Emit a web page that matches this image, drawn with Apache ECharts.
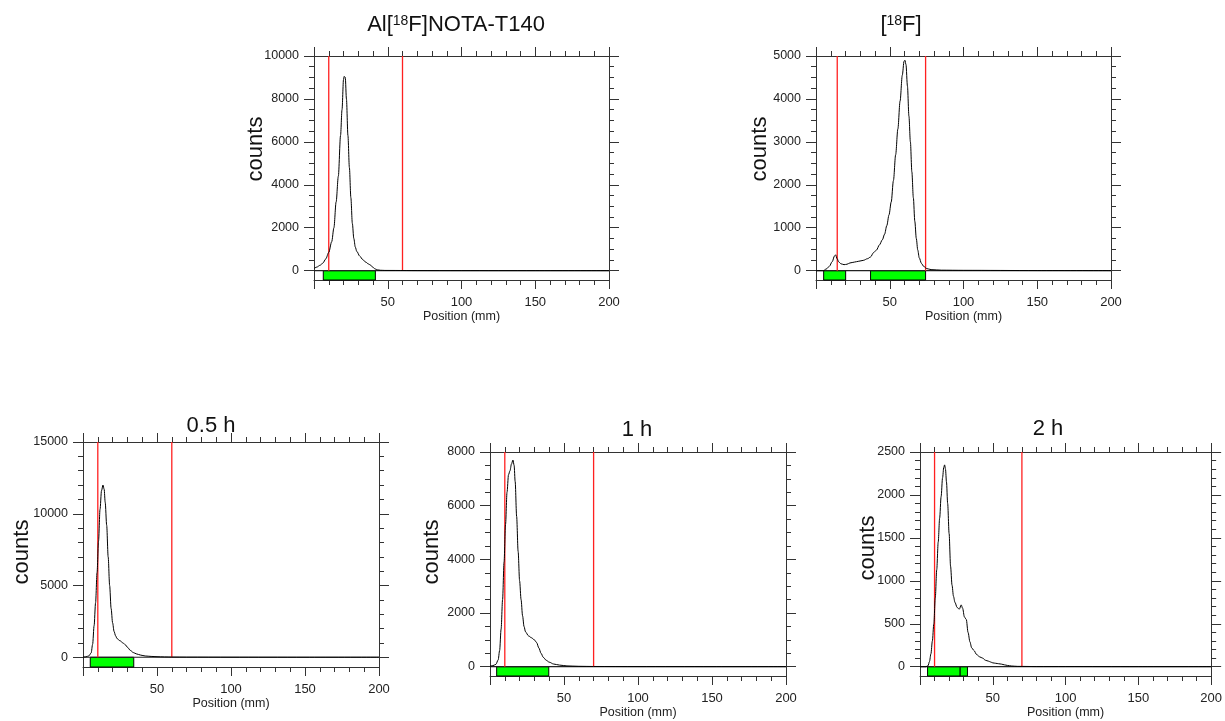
<!DOCTYPE html>
<html><head><meta charset="utf-8">
<script src="https://cdn.jsdelivr.net/npm/echarts@6/dist/echarts.min.js"></script>
<style>html,body{margin:0;padding:0;background:#fff}#c{width:1225px;height:721px}</style>
</head><body><div id="c"></div>
<script>
// ---------- data ----------
const pos1 = [0,2,4,6,8,10,12,13.5,15,16.5,18,19,20,20.5,21.2,22,23,24,25,26,27,28,29,31,33,35,37,38.5,40,41.5,43,45,48,55,70,100,150,200];
const cnt1 = [100,170,250,350,550,850,1350,2000,3200,4400,6300,7500,8900,9050,9000,8000,6300,4800,3400,2200,1500,1100,900,680,520,400,310,250,150,80,40,20,12,10,5,3,2,2];

const pos2 = [0,5,7,9,11,12.5,13.3,14.3,15.5,17,19,21,23,26,29,32,35,37,39,41,43,45,46.5,48,49.5,51,52.5,54,55.5,57,58.5,59.7,60.3,61,62,63,64,65,66,67,68,69,70,71.5,73,75,78,85,100,150,200];
const cnt2 = [0,0,40,100,210,340,370,280,200,160,140,150,180,200,220,240,280,320,420,480,600,720,850,1050,1300,1600,2100,2700,3300,3950,4550,4880,4900,4800,4300,3600,3000,2300,1700,1150,750,480,300,170,100,50,25,12,8,3,2];

const pos3 = [0,2,4,5.5,6.5,7.5,8.5,9.5,10.5,11.5,12.5,13.5,14.3,15,16,17,18,19,20,21,22,23,25,27,28.5,30,32,34,36,39,42,46,50,55,60,70,100,150,200];
const cnt3 = [10,30,100,300,900,2200,3800,5900,8100,10300,11600,12000,11700,10800,9200,7000,5000,3400,2400,1800,1500,1300,1150,1000,880,700,480,330,240,150,90,60,40,25,15,10,5,3,3];

const pos4 = [0,2,4,5.5,6.5,7.5,8.5,9.5,10.5,11.5,12.5,13.5,14.5,15.5,16.3,17,18,19,20,21,22,23,24,26,28,30,31.5,33,34.5,36,38,40,43,47,52,60,70,100,150,200];
const cnt4 = [20,40,90,250,600,1400,2500,3900,5300,6500,7150,7300,7550,7700,7500,6900,5600,4300,3200,2500,1900,1500,1300,1150,1080,1000,900,700,500,350,240,170,100,60,30,15,8,5,3,3];

const pos5 = [0,4,5.5,6.5,7.5,8.5,9.5,10.5,11.5,12.5,13.5,14.5,15.5,16.3,16.9,17.5,18.2,19,20,21,22,23,24,25.5,27,28.3,29.3,30.5,31.8,33,34.3,35.5,37,39,41,43,45,47,48.5,50,52,54,56,58,60,63,67,80,100,150,200];
const cnt5 = [0,0,10,60,150,300,500,800,1130,1450,1730,1980,2200,2320,2350,2300,2150,1900,1550,1170,950,820,750,690,670,720,680,580,550,400,290,220,190,140,115,100,75,65,55,45,40,35,30,22,15,8,4,2,2,1,1];

// region markers (mm)
const red1 = [10, 60];
const red2 = [14.4, 74.3];
const red3 = [10, 60];
const red4 = [10, 70];
const red5 = [10, 70];
const green1 = [[6.3, 41.6]];
const green2 = [[5.2, 20.1], [37, 74.3]];
const green3 = [[4.9, 34.3]];
const green4 = [[4.5, 39.7]];
const green5 = [[5.2, 27.6], [27.6, 32.6]];

// tick labels
const xTicks = [50, 100, 150, 200];
const yTicks1 = [0, 2000, 4000, 6000, 8000, 10000];
const yTicks2 = [0, 1000, 2000, 3000, 4000, 5000];
const yTicks3 = [0, 5000, 10000, 15000];
const yTicks4 = [0, 2000, 4000, 6000, 8000];
const yTicks5 = [0, 500, 1000, 1500, 2000, 2500];
const yMinorStep = [500, 250, 1000, 500, 100];

const titles = ['Al[18F]NOTA-T140', '[18F]', '0.5 h', '1 h', '2 h'];

// ---------- layout ----------
const FONT = '"Liberation Sans", Arial, Helvetica, sans-serif';
const layout = [
  {left: 314, top: 56,  width: 295, height: 224, yLow: -434, tx: 456,  ty: 25,    cx: 256, cy: 149},
  {left: 816, top: 56,  width: 295, height: 224, yLow: -217, tx: 901,  ty: 25,    cx: 760, cy: 149},
  {left: 83,  top: 442, width: 296, height: 225, yLow: -678, tx: 211,  ty: 425.5, cx: 22,  cy: 552},
  {left: 490, top: 452, width: 296, height: 224, yLow: -346, tx: 637,  ty: 429.5, cx: 432, cy: 552},
  {left: 920, top: 452, width: 295, height: 224, yLow: -108, tx: 1048, ty: 428.5, cx: 868, cy: 548}
];
const P = [
  {pos: pos1, cnt: cnt1, red: red1, green: green1, yt: yTicks1},
  {pos: pos2, cnt: cnt2, red: red2, green: green2, yt: yTicks2},
  {pos: pos3, cnt: cnt3, red: red3, green: green3, yt: yTicks3},
  {pos: pos4, cnt: cnt4, red: red4, green: green4, yt: yTicks4},
  {pos: pos5, cnt: cnt5, red: red5, green: green5, yt: yTicks5}
];

const AX = '#333';
const option = {animation: false, backgroundColor: '#fff', grid: [], xAxis: [], yAxis: [], series: [], graphic: []};

P.forEach((p, i) => {
  const L = layout[i];
  const yTop = p.yt[p.yt.length - 1];
  option.grid.push({left: L.left, top: L.top, width: L.width, height: L.height, show: false});
  const xb = option.xAxis.length;
  const xCommon = {
    type: 'value', gridIndex: i, min: 0, max: 200, interval: 50,
    axisLine: {show: true, onZero: false, lineStyle: {color: AX, width: 1}},
    axisTick: {show: true, length: 9, lineStyle: {color: AX, width: 1}},
    minorTick: {show: true, splitNumber: 5, length: 5, lineStyle: {color: AX, width: 1}},
    splitLine: {show: false}, minorSplitLine: {show: false}
  };
  option.xAxis.push(Object.assign({}, xCommon, {
    position: 'bottom',
    axisLabel: {show: true, margin: 16, fontSize: 13, color: '#222', fontFamily: FONT,
      formatter: v => xTicks.indexOf(v) >= 0 ? String(v) : ''},
    name: 'Position (mm)', nameLocation: 'middle', nameGap: 28,
    nameTextStyle: {fontSize: 12.5, color: '#222', fontFamily: FONT}
  }));
  option.xAxis.push(Object.assign({}, xCommon, {position: 'top', axisLabel: {show: false}}));

  const minors = [];
  for (let v = 0; v <= yTop + 1e-9; v += yMinorStep[i]) {
    if (p.yt.indexOf(v) < 0) minors.push(v);
  }
  const yb = option.yAxis.length;
  const yBase = {type: 'value', gridIndex: i, min: L.yLow, max: yTop,
    splitLine: {show: false}, axisLabel: {show: false},
    axisLine: {show: false, onZero: false}};
  ['left', 'right'].forEach(side => {
    option.yAxis.push(Object.assign({}, yBase, {
      position: side,
      axisLine: {show: true, onZero: false, lineStyle: {color: AX, width: 1}},
      axisTick: {show: true, length: 10, customValues: p.yt, lineStyle: {color: AX, width: 1}},
      axisLabel: side === 'left'
        ? {show: true, customValues: p.yt, margin: 15, fontSize: 12.5, color: '#222', fontFamily: FONT,
           formatter: v => String(Math.round(v))}
        : {show: false}
    }));
    option.yAxis.push(Object.assign({}, yBase, {
      position: side,
      axisTick: {show: true, length: 5, customValues: minors, lineStyle: {color: AX, width: 1}}
    }));
  });

  const maData = p.green.map(g => [{coord: [g[0], L.yLow]}, {coord: [g[1], 0]}]);

  // zero line + green regions
  option.series.push({
    type: 'line', xAxisIndex: xb, yAxisIndex: yb, data: [[0, 0], [200, 0]],
    showSymbol: false, silent: true, z: 2,
    lineStyle: {color: '#222', width: 1.2}, itemStyle: {color: '#222'},
    markArea: {silent: true, itemStyle: {color: '#00ff00', borderColor: '#000', borderWidth: 1, opacity: 1}, data: maData}
  });
  // red cut lines
  p.red.forEach(x => {
    option.series.push({
      type: 'line', xAxisIndex: xb, yAxisIndex: yb, data: [[x, 0], [x, yTop]],
      showSymbol: false, silent: true, z: 3,
      lineStyle: {color: '#ff2020', width: 1.3}, itemStyle: {color: '#ff2020'}
    });
  });
  // radio-TLC trace
  option.series.push({
    type: 'line', xAxisIndex: xb, yAxisIndex: yb,
    data: p.pos.map((x, k) => [x, p.cnt[k]]),
    showSymbol: false, smooth: 0.3, smoothMonotone: 'x',
    lineStyle: {color: '#000', width: 1}, itemStyle: {color: '#000'},
    silent: true, z: 5
  });

  // title
  const t = titles[i];
  let titleStyle;
  const m = t.match(/^(.*)\[18F\](.*)$/);
  if (m) {
    titleStyle = {
      text: '{a|' + m[1] + '[}{s|18}{a|F]' + m[2] + '}',
      rich: {a: {fontSize: 22, fontFamily: FONT, fill: '#111', color: '#111'},
             s: {fontSize: 14, fontFamily: FONT, fill: '#111', color: '#111', verticalAlign: 'top'}},
      x: 0, y: 0, align: 'center', verticalAlign: 'middle'
    };
  } else {
    titleStyle = {text: t, fontSize: 22, fontFamily: FONT, fill: '#111', x: 0, y: 0, align: 'center', verticalAlign: 'middle'};
  }
  option.graphic.push({type: 'text', x: L.tx, y: L.ty, style: titleStyle, silent: true});
  option.graphic.push({type: 'text', x: L.cx, y: L.cy, rotation: Math.PI / 2, silent: true,
    style: {text: 'counts', fontSize: 22, fontFamily: FONT, fill: '#111', x: 0, y: 0, align: 'center', verticalAlign: 'middle'}});
});

const chart = echarts.init(document.getElementById('c'), null, {renderer: 'canvas'});
chart.setOption(option);
</script></body></html>
